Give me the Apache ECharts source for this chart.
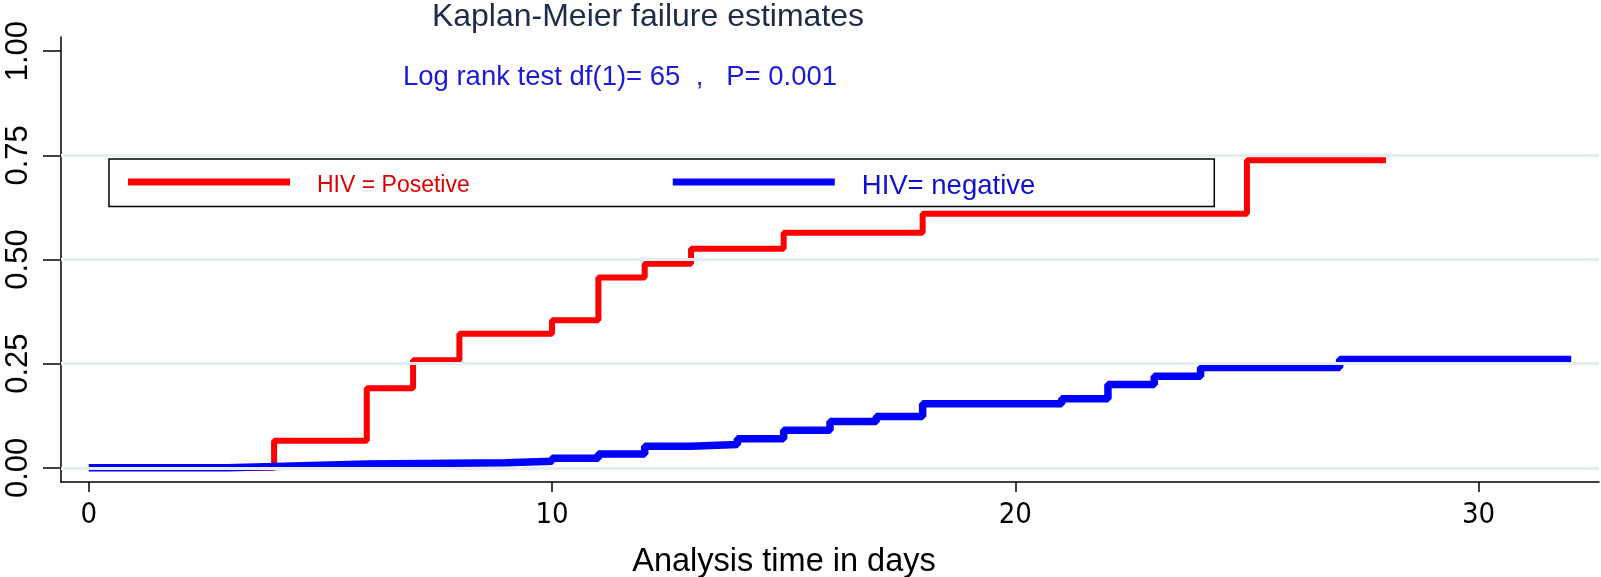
<!DOCTYPE html>
<html><head><meta charset="utf-8">
<script src="https://cdn.jsdelivr.net/npm/echarts@6/dist/echarts.min.js"></script>
<style>html,body{margin:0;padding:0;background:#fff}#c{width:1601px;height:577px}</style>
</head><body><div id="c"></div>
<script>
const titleText = 'Kaplan-Meier failure estimates';
const noteText = 'Log rank test df(1)= 65  ,   P= 0.001';
const xAxisTitle = 'Analysis time in days';
const groupNames = ['HIV = Posetive', 'HIV= negative'];
const xTicks = [0, 10, 20, 30];
const yTicks = [0, 0.25, 0.5, 0.75, 1];
const gridValues = [0, 0.25, 0.5, 0.75];
const posTime = [0, 4, 6, 7, 8, 10, 11, 12, 13, 15, 18, 25, 28];
const posFail = [0, 0.065, 0.191, 0.258, 0.322, 0.354, 0.457, 0.49, 0.526, 0.564, 0.61, 0.738, 0.738];
const negTime = [0, 3, 4, 5, 6, 9, 10, 11, 12, 13, 14, 15, 16, 17, 18, 21, 22, 23, 24, 27, 32];
const negFail = [0, 0.003, 0.006, 0.009, 0.012, 0.016, 0.023, 0.033, 0.052, 0.056, 0.07, 0.09, 0.111, 0.123, 0.154, 0.166, 0.2, 0.22, 0.241, 0.26, 0.26];

const FONT = '"Liberation Sans", Arial, sans-serif';
const NARROW = '"Liberation Sans Narrow", "Arial Narrow", "DejaVu Sans Condensed", sans-serif';
const zip = (a, b) => a.map((v, i) => [v, b[i]]);
// legend key: a 7px bar in the upper part of a 15px-tall key box
const KEY_ICON = 'path://M0,0H162V7H0Z M0,15L0.01,15L0,15Z';

const chart = echarts.init(document.getElementById('c'), null, {renderer: 'canvas'});
chart.setOption({
  animation: false,
  backgroundColor: '#ffffff',
  title: [
    {text: titleText, left: 648, top: 1, textAlign: 'center', padding: 0,
     textStyle: {fontFamily: FONT, fontSize: 32, fontWeight: 'normal', color: '#1e2c4a'}},
    {text: noteText, left: 620, top: 63, textAlign: 'center', padding: 0,
     textStyle: {fontFamily: FONT, fontSize: 27.5, fontWeight: 'normal', color: '#1a1ad8'}},
    {text: xAxisTitle, left: 784, top: 546, textAlign: 'center', padding: 0,
     textStyle: {fontFamily: FONT, fontSize: 32.5, fontWeight: 'normal', color: '#000'}}
  ],
  grid: {left: 61, right: 2, top: 37, bottom: 95, containLabel: false},
  legend: {
    left: 109, top: 159, orient: 'horizontal',
    padding: [12, 179, 5.5, 19],
    itemGap: 203, itemWidth: 162, itemHeight: 15, icon: KEY_ICON, symbolKeepAspect: false,
    borderColor: '#000', borderWidth: 1.5, borderRadius: 0,
    selectedMode: false,
    data: [
      {name: groupNames[0], textStyle: {color: '#e00000', fontFamily: FONT, fontSize: 23, lineHeight: 30, padding: [0, 0, 0, 22]}},
      {name: groupNames[1], textStyle: {color: '#1010d0', fontFamily: FONT, fontSize: 27.5, lineHeight: 30, padding: [0, 0, 0, 22]}}
    ]
  },
  xAxis: {
    type: 'value', min: -0.6, max: 32.6,
    axisLine: {onZero: false, lineStyle: {color: '#000', width: 1.5}},
    axisTick: {show: true, length: 10, customValues: xTicks, lineStyle: {color: '#000', width: 1.5}},
    axisLabel: {customValues: xTicks, margin: 19, fontFamily: NARROW, fontSize: 29, color: '#000'},
    splitLine: {show: false}
  },
  yAxis: {
    type: 'value', min: -0.034, max: 1.034,
    axisLine: {show: true, onZero: false, lineStyle: {color: '#000', width: 1.5}},
    axisTick: {show: true, length: 18, customValues: yTicks, lineStyle: {color: '#000', width: 1.5}},
    axisLabel: {customValues: yTicks, rotate: 90, margin: 27, fontFamily: FONT, fontSize: 31, color: '#000',
      formatter: v => Number(v).toFixed(2)},
    splitLine: {show: false}
  },
  series: [
    {name: 'grid', type: 'line', data: [], z: 1, silent: true,
     markLine: {silent: true, symbol: 'none', label: {show: false},
       lineStyle: {color: '#e6edf0', width: 3, type: 'solid'},
       data: gridValues.map(v => ({yAxis: v}))}},
    {name: groupNames[0], type: 'line', step: 'end', showSymbol: false, z: 2,
     data: zip(posTime, posFail), color: '#ff0000',
     itemStyle: {color: '#ff0000'}, lineStyle: {color: '#ff0000', width: 6, cap: 'butt'}},
    {name: groupNames[1], type: 'line', step: 'end', showSymbol: false, z: 3,
     data: zip(negTime, negFail), color: '#0000ff',
     itemStyle: {color: '#0000ff'}, lineStyle: {color: '#0000ff', width: 7.5, cap: 'butt'}}
  ]
});
</script></body></html>
